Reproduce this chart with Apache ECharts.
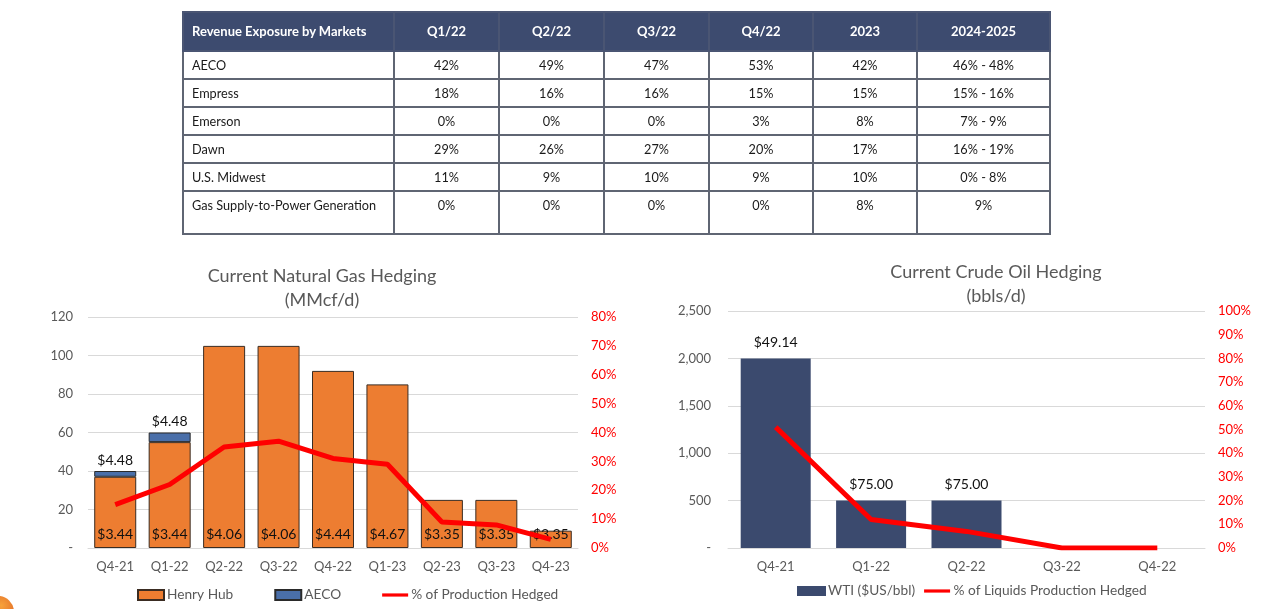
<!DOCTYPE html>
<html>
<head>
<meta charset="utf-8">
<script src="https://cdn.jsdelivr.net/npm/echarts@6/dist/echarts.min.js"></script>
<style>
html,body{margin:0;padding:0;background:#fff;width:1280px;height:609px;overflow:hidden;font-family:Lato,"Open Sans",sans-serif;}
#chart{position:absolute;left:0;top:0;width:1280px;height:609px;}
#tbl{position:absolute;left:182px;top:11px;border-collapse:collapse;table-layout:fixed;width:867px;font-size:12.7px;color:#1a1a1a;}
#tbl td,#tbl th{border:2px solid #5f6573;padding:0;text-align:center;vertical-align:top;line-height:26px;height:26px;}
#tbl th{background:#3d4b6f;color:#fff;font-weight:bold;font-size:13px;height:37px;line-height:37px;vertical-align:middle;border-color:#4a5573;}
#tbl td:first-child,#tbl th:first-child{text-align:left;padding-left:8px;}
#tbl tr.last td{height:41px;}
</style>
</head>
<body>
<div id="chart"></div>
<table id="tbl"></table>
<script>
// ---- Table data ----
var tableHeaders = ['Revenue Exposure by Markets','Q1/22','Q2/22','Q3/22','Q4/22','2023','2024-2025'];
var tableMarkets = ['AECO','Empress','Emerson','Dawn','U.S. Midwest','Gas Supply-to-Power Generation'];
var tableAECO     = ['42%','49%','47%','53%','42%','46% - 48%'];
var tableEmpress  = ['18%','16%','16%','15%','15%','15% - 16%'];
var tableEmerson  = ['0%','0%','0%','3%','8%','7% - 9%'];
var tableDawn     = ['29%','26%','27%','20%','17%','16% - 19%'];
var tableMidwest  = ['11%','9%','10%','9%','10%','0% - 8%'];
var tableGasPower = ['0%','0%','0%','0%','8%','9%'];
var tableColWidths = [211,105,105,105,104,104,133];

// ---- Natural gas chart data ----
var gasCategories = ['Q4-21','Q1-22','Q2-22','Q3-22','Q4-22','Q1-23','Q2-23','Q3-23','Q4-23'];
var henryHub = [37,55,105,105,92,85,25,25,9];
var henryHubPrice = ['$3.44','$3.44','$4.06','$4.06','$4.44','$4.67','$3.35','$3.35','$3.35'];
var aeco = [3,5,null,null,null,null,null,null,null];
var aecoPrice = ['$4.48','$4.48','','','','','','',''];
var gasHedgedPct = [15,22,35,37,31,29,9,8,3];
var gasLeftTicks = {min:0,max:120,interval:20};
var gasRightTicks = {min:0,max:80,interval:10};

// ---- Crude oil chart data ----
var oilCategories = ['Q4-21','Q1-22','Q2-22','Q3-22','Q4-22'];
var wti = [2000,500,500,null,null];
var wtiPrice = ['$49.14','$75.00','$75.00','',''];
var oilHedgedPct = [51,12,7,0,0];
var oilLeftTicks = {min:0,max:2500,interval:500};
var oilRightTicks = {min:0,max:100,interval:10};

// build table
(function(){
  var t = document.getElementById('tbl');
  var cg = '<colgroup>' + tableColWidths.map(function(w){return '<col style="width:'+w+'px">';}).join('') + '</colgroup>';
  var h = '<tr>' + tableHeaders.map(function(x){return '<th>'+x+'</th>';}).join('') + '</tr>';
  var rows = [tableAECO,tableEmpress,tableEmerson,tableDawn,tableMidwest,tableGasPower];
  var b = rows.map(function(r,i){
    return '<tr'+(i===rows.length-1?' class="last"':'')+'><td>'+tableMarkets[i]+'</td>'+r.map(function(v){return '<td>'+v+'</td>';}).join('')+'</tr>';
  }).join('');
  t.innerHTML = cg + h + b;
})();

var FONT = 'Lato';
var GRAY = '#595959';
var LINE_ICON = 'path://M0,0L0,0M0,10L0,10M0,3.4L26,3.4L26,6.6L0,6.6Z';
var chart = echarts.init(document.getElementById('chart'), null, {renderer:'canvas'});
function numFmt(v){ return v===0 ? '-' : v.toLocaleString('en-US'); }

var option = {
  animation:false,
  textStyle:{fontFamily:FONT},
  graphic:[
    {type:'text',x:322,y:276,style:{text:'Current Natural Gas Hedging',textAlign:'center',textVerticalAlign:'middle',fontSize:18,fill:GRAY,fontFamily:FONT}},
    {type:'text',x:322,y:300,style:{text:'(MMcf/d)',textAlign:'center',textVerticalAlign:'middle',fontSize:18,fill:GRAY,fontFamily:FONT}},
    {type:'text',x:996,y:272,style:{text:'Current Crude Oil Hedging',textAlign:'center',textVerticalAlign:'middle',fontSize:18,fill:GRAY,fontFamily:FONT}},
    {type:'text',x:996,y:296,style:{text:'(bbls/d)',textAlign:'center',textVerticalAlign:'middle',fontSize:18,fill:GRAY,fontFamily:FONT}},
    {type:'circle',shape:{cx:-2,cy:612,r:16},style:{fill:new echarts.graphic.RadialGradient(0.6,0.3,0.8,[{offset:0,color:'#f7a23b'},{offset:1,color:'#d9531e'}])}}
  ],
  legend:[
    {data:[{name:'Henry Hub',icon:'rect'},{name:'AECO',icon:'rect'},{name:'% of Production Hedged',icon:LINE_ICON}],
     left:132,top:583,itemWidth:26,itemHeight:10,itemGap:41,
     textStyle:{color:GRAY,fontSize:13.7,fontFamily:FONT,padding:[0,0,0,-2]}},
    {data:[{name:'WTI ($US/bbl)',icon:'rect'},{name:'% of Liquids Production Hedged',icon:LINE_ICON}],
     left:792,top:579,itemWidth:29,itemHeight:10,itemGap:9,
     textStyle:{color:GRAY,fontSize:13.7,fontFamily:FONT,padding:[0,0,0,-3]}}
  ],
  grid:[
    {left:88,right:702,top:317,bottom:61},
    {left:728,right:75,top:311,bottom:61}
  ],
  xAxis:[
    {type:'category',gridIndex:0,data:gasCategories,axisTick:{show:false},
     axisLine:{lineStyle:{color:'#d9d9d9',width:1}},
     axisLabel:{color:GRAY,fontSize:13,margin:12,fontFamily:FONT}},
    {type:'category',gridIndex:1,data:oilCategories,axisTick:{show:false},
     axisLine:{lineStyle:{color:'#d9d9d9',width:1}},
     axisLabel:{color:GRAY,fontSize:13,margin:12,fontFamily:FONT}}
  ],
  yAxis:[
    {type:'value',gridIndex:0,min:gasLeftTicks.min,max:gasLeftTicks.max,interval:gasLeftTicks.interval,
     axisLine:{show:false},axisTick:{show:false},splitLine:{lineStyle:{color:'#d9d9d9'}},
     axisLabel:{color:GRAY,fontSize:13,margin:15,formatter:numFmt,fontFamily:FONT}},
    {type:'value',gridIndex:0,position:'right',min:gasRightTicks.min,max:gasRightTicks.max,interval:gasRightTicks.interval,
     axisLine:{show:false},axisTick:{show:false},splitLine:{show:false},
     axisLabel:{color:'#ff0000',fontSize:13,margin:13,formatter:'{value}%',fontFamily:FONT}},
    {type:'value',gridIndex:1,min:oilLeftTicks.min,max:oilLeftTicks.max,interval:oilLeftTicks.interval,
     axisLine:{show:false},axisTick:{show:false},splitLine:{lineStyle:{color:'#d9d9d9'}},
     axisLabel:{color:GRAY,fontSize:13,margin:17,formatter:numFmt,fontFamily:FONT}},
    {type:'value',gridIndex:1,position:'right',min:oilRightTicks.min,max:oilRightTicks.max,interval:oilRightTicks.interval,
     axisLine:{show:false},axisTick:{show:false},splitLine:{show:false},
     axisLabel:{color:'#ff0000',fontSize:13,margin:13,formatter:'{value}%',fontFamily:FONT}}
  ],
  series:[
    {name:'Henry Hub',type:'bar',xAxisIndex:0,yAxisIndex:0,stack:'gas',barWidth:42,data:henryHub,
     itemStyle:{color:'#ed7d31',borderColor:'#3a2c22',borderWidth:1},
     label:{show:true,position:'insideBottom',distance:7,color:'#111',fontSize:14,fontFamily:FONT,
       formatter:function(p){return henryHubPrice[p.dataIndex];}}},
    {name:'AECO',type:'bar',xAxisIndex:0,yAxisIndex:0,stack:'gas',barWidth:42,data:aeco,
     itemStyle:{color:'#4a6fa9',borderColor:'#2a2a2a',borderWidth:1},
     label:{show:true,position:'top',distance:4,color:'#111',fontSize:14,fontFamily:FONT,
       formatter:function(p){return aecoPrice[p.dataIndex];}}},
    {name:'% of Production Hedged',type:'line',xAxisIndex:0,yAxisIndex:1,data:gasHedgedPct,symbol:'none',z:5,
     lineStyle:{color:'#ff0000',width:5},itemStyle:{color:'#ff0000'}},
    {name:'WTI ($US/bbl)',type:'bar',xAxisIndex:1,yAxisIndex:2,barWidth:70,data:wti,
     itemStyle:{color:'#3b4a6e'},
     label:{show:true,position:'top',distance:9,color:'#111',fontSize:14,fontFamily:FONT,
       formatter:function(p){return wtiPrice[p.dataIndex];}}},
    {name:'% of Liquids Production Hedged',type:'line',xAxisIndex:1,yAxisIndex:3,data:oilHedgedPct,symbol:'none',z:5,
     lineStyle:{color:'#ff0000',width:5},itemStyle:{color:'#ff0000'}}
  ]
};
chart.setOption(option);
</script>
</body>
</html>
